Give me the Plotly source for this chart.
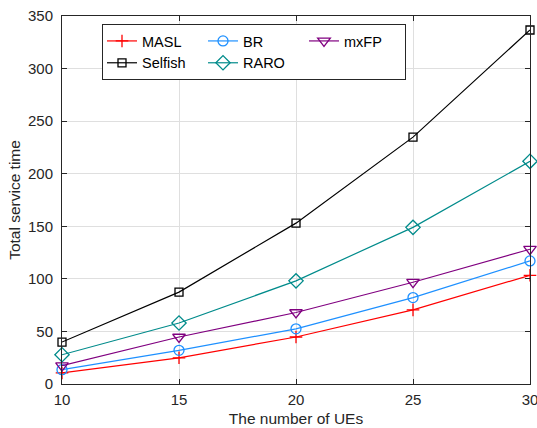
import plotly.graph_objects as go

# Number of UEs on the x axis
num_ues = [10, 15, 20, 25, 30]

# Total service time per scheme
masl = [10.5, 24.9, 44.7, 70.5, 103.4]
br = [13.6, 32.0, 52.5, 82.2, 117.1]
mxfp = [17.4, 44.7, 68.0, 96.8, 128.2]
selfish = [39.9, 87.4, 153.0, 234.8, 336.7]
raro = [27.8, 58.0, 98.1, 149.0, 211.8]

x_ticks = [10, 15, 20, 25, 30]
y_ticks = [0, 50, 100, 150, 200, 250, 300, 350]

FONT = "Liberation Sans, Arial, sans-serif"
AXIS_COLOR = "#262626"

# name, values, colour, marker, marker size, legend column
series = [
    ("MASL", masl, "#ff0000", "cross-thin-open", 9, "c1"),
    ("BR", br, "#1e90ff", "circle-open", 10, "c2"),
    ("mxFP", mxfp, "#800080", "triangle-down-open", 11, "c3"),
    ("Selfish", selfish, "#000000", "square-open", 8, "c1"),
    ("RARO", raro, "#008b8b", "diamond-open", 11, "c2"),
]

fig = go.Figure()
for name, vals, color, symbol, size, group in series:
    fig.add_trace(go.Scatter(
        x=num_ues, y=vals, name=name, mode="lines+markers",
        line=dict(color=color, width=1.2),
        marker=dict(symbol=symbol, size=size, color=color,
                    line=dict(color=color, width=1.3)),
        legendgroup=group, cliponaxis=False,
    ))

W, H = 537, 428
ml, mr, mt, mb = 62, 7, 16, 44
pw, ph = W - ml - mr, H - mt - mb


def px_x(p):
    return (p - ml) / pw


def px_y(p):
    return (H - mb - p) / ph


fig.update_layout(
    width=W, height=H,
    margin=dict(l=ml, r=mr, t=mt, b=mb),
    paper_bgcolor="white", plot_bgcolor="white",
    font=dict(family=FONT, size=15, color=AXIS_COLOR),
    legend=dict(
        orientation="h", xanchor="left", yanchor="top",
        x=px_x(102), y=px_y(24),
        bgcolor="white", bordercolor="#262626", borderwidth=1,
        font=dict(family=FONT, size=14.5, color="#000000"),
        traceorder="grouped", tracegroupgap=0,
        entrywidth=56, entrywidthmode="pixels",
        groupclick="toggleitem",
    ),
)

fig.update_xaxes(
    range=[10, 30], tickvals=x_ticks, ticks="inside", ticklen=5,
    showline=True, linecolor=AXIS_COLOR, linewidth=1, mirror="ticks",
    tickcolor=AXIS_COLOR, showgrid=True, gridcolor="#dfdfdf", gridwidth=1,
    zeroline=False, tickfont=dict(size=15, color=AXIS_COLOR),
    ticklabelstandoff=2, ticklabeloverflow="allow", automargin=False,
    title=dict(text="The number of UEs", font=dict(size=15.5, color=AXIS_COLOR), standoff=6),
)
fig.update_yaxes(
    range=[0, 350], tickvals=y_ticks, ticks="inside", ticklen=5,
    showline=True, linecolor=AXIS_COLOR, linewidth=1, mirror="ticks",
    tickcolor=AXIS_COLOR, showgrid=True, gridcolor="#dfdfdf", gridwidth=1,
    zeroline=False, tickfont=dict(size=15, color=AXIS_COLOR),
    ticklabelstandoff=5, automargin=False,
    title=dict(text="Total service time", font=dict(size=15.5, color=AXIS_COLOR), standoff=3),
)

fig.write_html("out.html")
